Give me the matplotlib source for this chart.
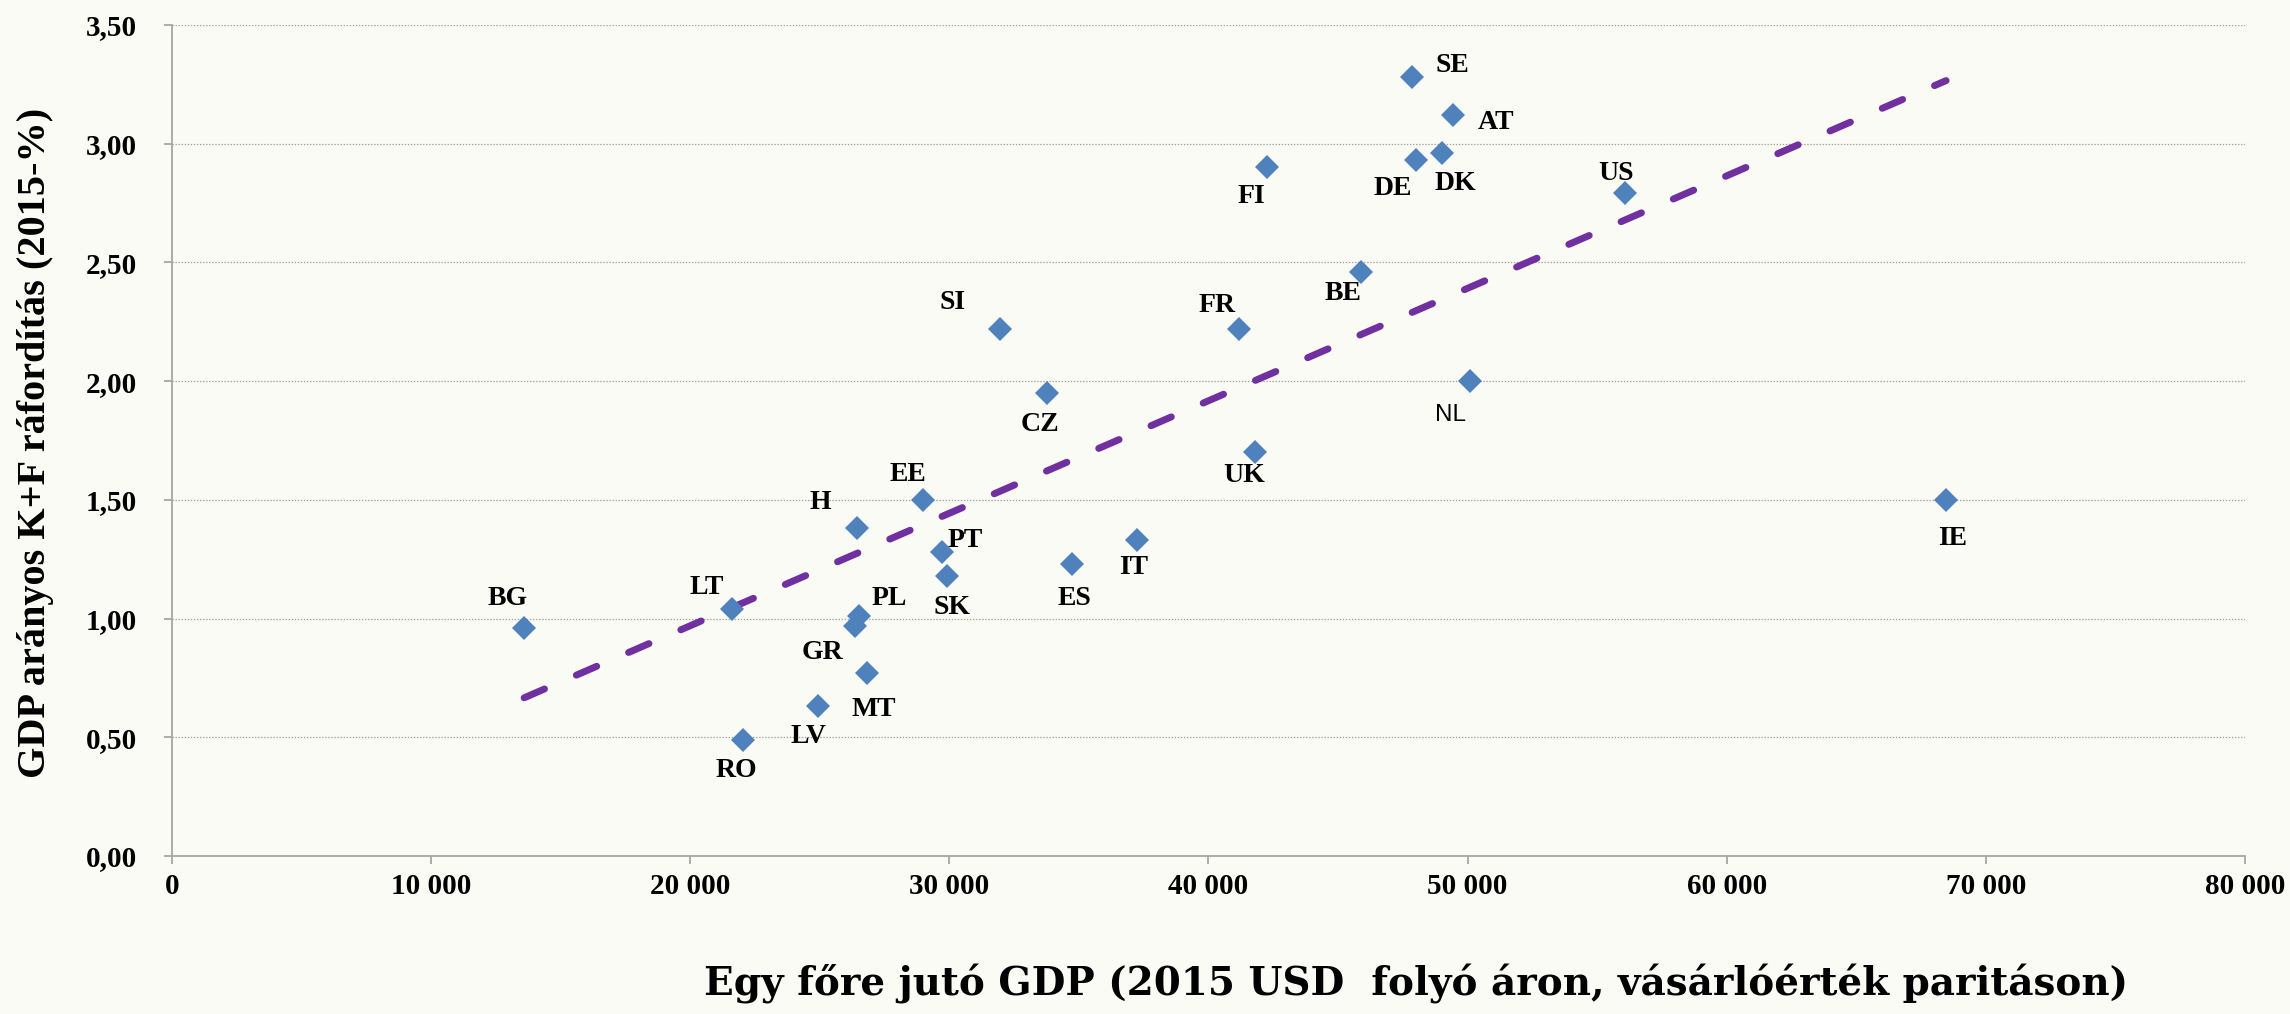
import numpy as np
import matplotlib
matplotlib.use('Agg')
import matplotlib.pyplot as plt
from matplotlib.ticker import FuncFormatter

plt.rcParams.update({'font.family': 'serif', 'font.serif': ['Liberation Serif', 'DejaVu Serif'],
                     'font.weight': 'bold', 'lines.scale_dashes': False})

# data
countries = ['BG', 'LT', 'RO', 'LV', 'GR', 'PL', 'MT', 'H', 'EE', 'PT', 'SK', 'SI', 'CZ',
             'ES', 'IT', 'UK', 'FR', 'FI', 'BE', 'SE', 'DE', 'AT', 'DK', 'NL', 'US', 'IE']
gdp_per_capita = [13590, 21610, 22050, 24920, 26370, 26530, 26810, 26450, 29000, 29710, 29920,
                  31970, 33760, 34720, 37250, 41780, 41190, 42270, 45870, 47850, 48010, 49450,
                  49000, 50080, 56060, 68470]
rd_share = [0.96, 1.04, 0.49, 0.63, 0.97, 1.01, 0.77, 1.38, 1.50, 1.28, 1.18, 2.22, 1.95,
            1.23, 1.33, 1.70, 2.22, 2.90, 2.46, 3.28, 2.93, 3.12, 2.96, 2.00, 2.79, 1.50]
x_ticks = [0, 10000, 20000, 30000, 40000, 50000, 60000, 70000, 80000]
y_ticks = [0.0, 0.5, 1.0, 1.5, 2.0, 2.5, 3.0, 3.5]

# label offsets in pixels (dx right, dy down) from the marker
label_offsets = {
    'BG': (-16, -30), 'LT': (-25, -22), 'RO': (-7, 31), 'LV': (-9, 30), 'GR': (-33, 27),
    'PL': (30, -18), 'MT': (7, 36), 'H': (-37, -26), 'EE': (-15, -25), 'PT': (23, -12),
    'SK': (5, 32), 'ES': (3, 35), 'IT': (-4, 27), 'SE': (41, -12), 'AT': (43, 7),
    'DK': (14, 30), 'DE': (-23, 28), 'FI': (-16, 29), 'US': (-9, -20), 'BE': (-18, 22),
    'FR': (-22, -23), 'SI': (-48, -26), 'CZ': (-7, 32), 'UK': (-10, 23), 'NL': (-19, 34),
    'IE': (6, 39),
}

BG = '#FBFBF6'
MARKER = '#4F81BD'
TREND = '#7030A0'
PX = 72 / 100  # px -> points at dpi 100

fig = plt.figure(figsize=(22.9, 10.14), dpi=100, facecolor=BG)
ax = fig.add_axes([0.0751, 0.1558, 0.9052, 0.8197])
ax.set_facecolor(BG)

ax.set_xlim(0, 80000)
ax.set_ylim(0, 3.5)
ax.set_xticks(x_ticks)
ax.set_yticks(y_ticks)
ax.xaxis.set_major_formatter(FuncFormatter(lambda v, p: f'{int(v):,}'.replace(',', ' ')))
ax.yaxis.set_major_formatter(FuncFormatter(lambda v, p: f'{v:.2f}'.replace('.', ',')))
ax.grid(axis='y', linestyle=(0, (1, 1.2)), color='#A0A0A0', linewidth=0.9)
ax.set_axisbelow(True)
for side in ['top', 'right']:
    ax.spines[side].set_visible(False)
for side in ['left', 'bottom']:
    ax.spines[side].set_color('#A6A6A6')
    ax.spines[side].set_linewidth(1.3)
ax.tick_params(axis='both', color='#A6A6A6', width=1.3, length=6, labelsize=21)
ax.tick_params(axis='y', pad=19)
ax.tick_params(axis='x', pad=6)
for lab in ax.get_xticklabels() + ax.get_yticklabels():
    lab.set_fontweight('bold')

# linear trend line over the data range
coef = np.polyfit(gdp_per_capita, rd_share, 1)
xs = np.array([min(gdp_per_capita), max(gdp_per_capita)])
ax.plot(xs, np.polyval(coef, xs), color=TREND, linewidth=5, dashes=(16, 25),
        dash_capstyle='round', zorder=2)

ax.plot(gdp_per_capita, rd_share, linestyle='None', marker='D', markersize=12,
        markerfacecolor=MARKER, markeredgewidth=0, zorder=3, clip_on=False)

for c, x, y in zip(countries, gdp_per_capita, rd_share):
    dx, dy = label_offsets[c]
    if c == 'NL':
        kw = dict(family='Liberation Sans', fontweight='normal', fontsize=17.5)
    else:
        kw = dict(fontweight='bold', fontsize=20)
    ax.annotate(c, (x, y), xytext=(dx * PX, -dy * PX), textcoords='offset points',
                ha='center', va='center', color='black', **kw)

fig.text(0.6183, 0.0187, 'Egy főre jutó GDP (2015 USD  folyó áron, vásárlóérték paritáson)',
         ha='center', va='baseline', fontsize=28, fontweight='bold', family='DejaVu Serif')
fig.text(0.0153, 0.5636, 'GDP arányos K+F ráfordítás (2015-%)', rotation=90,
         ha='center', va='center', fontsize=29, fontweight='bold')

fig.savefig('out.png', dpi=100, facecolor=BG)
